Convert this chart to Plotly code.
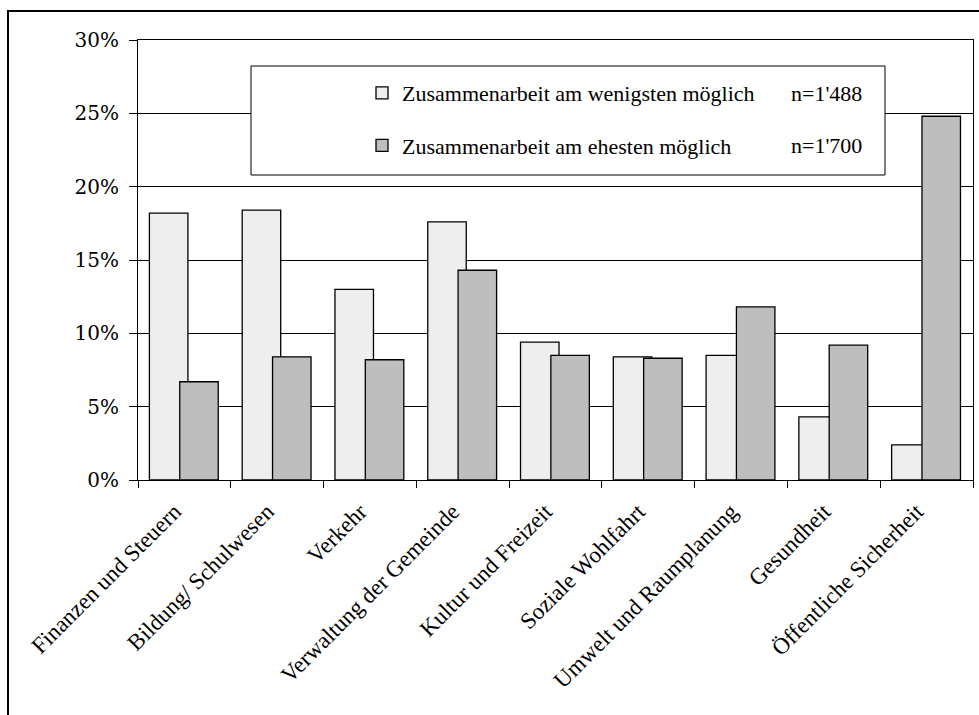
import plotly.graph_objects as go

# Kategorien und Anteile (in Prozent)
categories = [
    "Finanzen und Steuern",
    "Bildung/ Schulwesen",
    "Verkehr",
    "Verwaltung der Gemeinde",
    "Kultur und Freizeit",
    "Soziale Wohlfahrt",
    "Umwelt und Raumplanung",
    "Gesundheit",
    "Öffentliche Sicherheit",
]
least_possible = [18.2, 18.4, 13.0, 17.6, 9.4, 8.4, 8.5, 4.3, 2.4]
most_possible = [6.7, 8.4, 8.2, 14.3, 8.5, 8.3, 11.8, 9.2, 24.8]

series_names = [
    "Zusammenarbeit am wenigsten möglich",
    "Zusammenarbeit am ehesten möglich",
]
sample_sizes = ["n=1'488", "n=1'700"]

SERIF = "Liberation Serif, Times New Roman, serif"
SERIF_WIDE = "DejaVu Serif, serif"

W, H = 979, 715
L, R, T, B = 138, 6, 40, 235
plot_w = W - L - R
plot_h = H - T - B


def px_x(px):
    return (px - L) / plot_w


def px_y(py):
    return (H - B - py) / plot_h


fig = go.Figure()
fig.add_trace(go.Bar(
    x=categories, y=[v / 100 for v in least_possible],
    name=series_names[0], legendgroup="a",
    marker=dict(color="#EEEEEE", line=dict(color="#000000", width=1.3)),
    width=0.415, offset=-0.377,
))
fig.add_trace(go.Bar(
    x=categories, y=[v / 100 for v in most_possible],
    name=series_names[1], legendgroup="b",
    marker=dict(color="#BEBEBE", line=dict(color="#000000", width=1.3)),
    width=0.415, offset=-0.05,
))

shapes = [
    # Rahmen um die ganze Grafik
    dict(type="rect", xref="paper", yref="paper",
         x0=px_x(8), x1=px_x(990), y0=px_y(11), y1=px_y(730),
         line=dict(color="#000000", width=2), fillcolor="rgba(0,0,0,0)",
         layer="above"),
    # Legendenkasten
    dict(type="rect", xref="paper", yref="paper",
         x0=px_x(251), x1=px_x(885), y0=px_y(66), y1=px_y(175),
         line=dict(color="#000000", width=1), fillcolor="#FFFFFF",
         layer="above"),
]

annotations = [
    dict(text=sample_sizes[0], xref="paper", yref="paper",
         x=px_x(789), y=px_y(93), xanchor="left", yanchor="middle",
         showarrow=False, font=dict(family=SERIF, size=22, color="#000")),
    dict(text=sample_sizes[1], xref="paper", yref="paper",
         x=px_x(789), y=px_y(145), xanchor="left", yanchor="middle",
         showarrow=False, font=dict(family=SERIF, size=22, color="#000")),
]

fig.update_layout(
    width=W, height=H,
    margin=dict(l=L, r=R, t=T, b=B, pad=0),
    paper_bgcolor="#FFFFFF", plot_bgcolor="#FFFFFF",
    barmode="overlay",
    showlegend=True,
    legend=dict(
        x=px_x(362), y=px_y(72), xanchor="left", yanchor="top",
        bgcolor="rgba(0,0,0,0)", borderwidth=0,
        font=dict(family=SERIF, size=22, color="#000"),
        traceorder="grouped", tracegroupgap=21,
    ),
    shapes=shapes,
    annotations=annotations,
    xaxis=dict(
        type="category", tickson="boundaries", ticks="outside", ticklen=7,
        tickcolor="#000", tickwidth=1,
        showline=True, linecolor="#000", linewidth=1, mirror=True,
        showgrid=False, tickangle=-45,
        ticklabelstandoff=8, ticklabelshift=-10,
        tickfont=dict(family=SERIF, size=23, color="#000"),
        range=[-0.5, 8.5],
    ),
    yaxis=dict(
        range=[0, 0.30], dtick=0.05, tickformat=".0%",
        ticks="outside", ticklen=8, tickcolor="#000", tickwidth=1,
        ticklabelstandoff=6,
        showline=True, linecolor="#000", linewidth=1, mirror=True,
        showgrid=True, gridcolor="#000", gridwidth=1, zeroline=False,
        tickfont=dict(family=SERIF_WIDE, size=20, color="#000"),
    ),
)

fig.write_html("out.html")
